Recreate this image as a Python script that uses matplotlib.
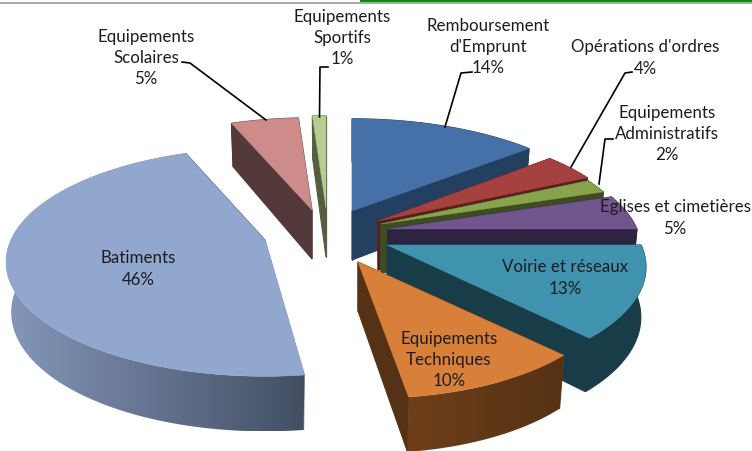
import numpy as np
import matplotlib
matplotlib.use('Agg')
import matplotlib.pyplot as plt
from matplotlib.colors import to_rgb
from matplotlib.patches import Polygon

plt.rcParams['font.family'] = ['Lato', 'DejaVu Sans']

# data, clockwise from 12 o'clock
names = ['Remboursement\nd\'Emprunt', 'Opérations d\'ordres', 'Equipements\nAdministratifs',
         'Eglises et cimetières', 'Voirie et réseaux', 'Equipements\nTechniques',
         'Batiments', 'Equipements\nScolaires', 'Equipements\nSportifs']
values = [14, 4, 2, 5, 13, 10, 46, 5, 1]

top_colors = ['#4571A8', '#A5423F', '#87A34C', '#71568E', '#3F93AE', '#D8803A', '#92A7CE', '#CD8C8A', '#B8CC92']
wall_left = ['#244060', '#5A1E1E', '#3E4C22', '#2E2340', '#193C49', '#6E3F19', '#8497BA', '#533939', '#535F3F']
wall_right = ['#244060', '#5A1E1E', '#3E4C22', '#2E2340', '#193C49', '#553215', '#434F63', '#533939', '#535F3F']

# layout, in pixels of the reference
apex_x = [352, 378, 381, 388, 387, 358, 265, 312, 326]
apex_y = [212, 222, 225, 230, 246, 263, 241, 211, 209]
scale_x = [1, 0.97, 0.96, 0.965, 0.985, 0.96, 0.985, 1, 1]
shear = [0, 0, 0, 0, 0, 0.09, 0, 0, 0]
label_x = [488, 645, 667, 675, 565, 449, 138, 146, 342]
label_y = [47, 58, 134, 218, 278, 360, 269, 58, 38]
leaders = [
    [(472, 73), (461, 74), (445, 128)],
    [(632, 73), (625, 74), (571, 168)],
    [(613, 140), (605, 140), (599, 185)],
    [(182, 63), (190, 64), (266, 121)],
    [(328, 68), (320, 68), (319.5, 118)],
]

RX, RY, PERSP = 258, 110, 0.193
DEPTH = 49


def project(theta, sx, sh):
    u, v = np.sin(theta), np.cos(theta)
    w = 1 + PERSP * v
    y = -RY * v / w
    x = sx * RX * u / w + sh * y
    return x, y, v


fig = plt.figure(figsize=(7.52, 4.52), dpi=100)
ax = fig.add_axes([0, 0, 1, 1])
ax.axis('off')

# bar cut off at the top of the screenshot
ax.fill_between([360, 752], 0, 3, color='#0B8A0B', lw=0)
ax.plot([0, 752], [3.6, 3.6], color='#9A9A9A', lw=1.2)

edges = np.radians(np.cumsum([0] + values) * 3.6)
for i in range(len(values)):
    z = 10 + i
    th = np.linspace(edges[i], edges[i + 1], max(int(values[i] * 3), 4))
    x, y, v = project(th, scale_x[i], shear[i])
    ax0, ay0 = apex_x[i], apex_y[i]
    tx, ty = ax0 + x, ay0 + y
    bx, by = ax0 + 0.98 * x, ay0 + y + DEPTH - 6 * v

    # cut faces
    for k in (0, -1):
        ax.fill([ax0, tx[k], bx[k], ax0], [ay0, ty[k], by[k], ay0 + DEPTH],
                color=wall_left[i] if k == 0 else wall_right[i], lw=0.8, zorder=z)

    # outer wall, shaded from left to right
    outline = np.c_[np.r_[tx, bx[::-1]], np.r_[ty, by[::-1]]]
    if wall_left[i] == wall_right[i]:
        ax.add_patch(Polygon(outline, color=wall_left[i], lw=0.8, zorder=z))
    else:
        c0, c1 = np.array(to_rgb(wall_left[i])), np.array(to_rgb(wall_right[i]))
        grad = np.linspace(0, 1, 64)[None, :, None] * (c1 - c0) + c0
        clip = Polygon(outline, fc='none', ec='none', transform=ax.transData)
        ax.add_patch(clip)
        im = ax.imshow(grad, extent=[outline[:, 0].min(), outline[:, 0].max(),
                                     outline[:, 1].max(), outline[:, 1].min()],
                       aspect='auto', interpolation='bilinear', zorder=z)
        im.set_clip_path(clip)

    # top face
    ax.fill(np.r_[ax0, tx], np.r_[ay0, ty], color=top_colors[i], lw=0.3, zorder=z)

for pts in leaders:
    ax.plot([p[0] for p in pts], [p[1] for p in pts], color='black', lw=1.2, zorder=30)

for i in range(len(values)):
    ax.text(label_x[i], label_y[i], f'{names[i]}\n{values[i]}%', ha='center', va='center',
            fontsize=12.2, color='#1C1C1C', linespacing=1.42, zorder=40)

ax.set_xlim(0, 752)
ax.set_ylim(452, 0)
plt.savefig('out.png', dpi=100)
